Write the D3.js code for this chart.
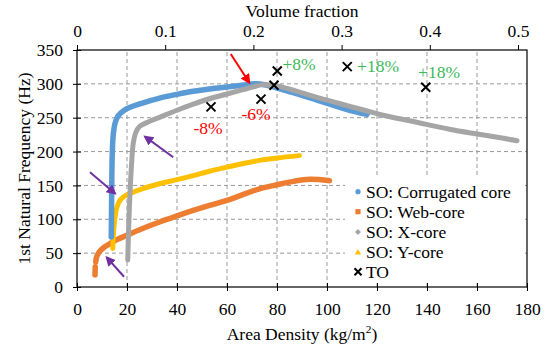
<!DOCTYPE html>
<html><head><meta charset="utf-8">
<script src="https://cdn.jsdelivr.net/npm/d3@7"></script>
<style>body{margin:0;background:#fff}svg{display:block}svg text{font-family:"Liberation Serif","Tinos","DejaVu Serif","Times New Roman",serif !important}</style>
</head><body><svg id="c" width="548" height="345"></svg>
<script>
// ---- data ----
const xTicks = [0,20,40,60,80,100,120,140,160,180];
const yTicks = [0,50,100,150,200,250,300,350];
const vfTicks = [0,0.1,0.2,0.3,0.4,0.5];
const seriesNames = ["SO: Corrugated core","SO: Web-core","SO: X-core","SO: Y-core","TO"];
const corrugated = [[13.7,74],[13.8,110],[13.9,150],[14.1,195],[14.5,225],[15.3,243],[16.5,253],[18.5,260],[21,265],[26.5,272],[33,279],[40,284.5],[46.5,289],[53,292.5],[60,295.5],[66,298],[71,300],[76,298],[82.5,291],[90,283],[96,276],[103,268],[109,261],[116,255]];
const webCoreLow = [[7.2,18],[7.3,30]];
const webCore = [[7.5,37],[7.9,45],[9.2,53],[11,59],[13.2,64],[16,70],[20,76.5],[26,86],[33,96],[40,105],[46.5,113],[53,120.5],[60,128],[66,136],[73,145],[80,151],[86.5,156],[93,159],[101,157]];
const xCore = [[20.3,40],[20.6,80],[21.1,130],[21.8,180],[22.5,212],[23.5,228],[25,237],[28,243],[33,250.5],[40,261],[46.5,270],[53,278],[60,285],[66,291],[71,296],[74,298.5],[80,297],[88,289],[96,280],[105,271],[115,261],[122,254],[135,244],[149,233],[160,226],[170,220],[176,216]];
const yCore = [[14.3,57],[14.6,80],[15.2,103],[16,118],[17.2,128],[19,134],[21.2,138],[26,145],[33,152.5],[40,158.5],[46.5,164.5],[53,171],[60,177],[66,182],[73,187],[80,190.5],[89,194]];
const toPoints = [[53.6,266],[73.6,277.5],[78.8,298],[80.1,319],[108.1,325.5],[139.5,295]];
const labels = [["-8%",52.4,235,"red"],["-6%",71.6,255,"red"],["+8%",88.8,329,"green"],["+18%",120.4,326,"green"],["+18%",144.8,318,"green"]];
const arrows = [[61.5,344,68.9,302,"red"],[38.5,191.6,27.2,222,"purple"],[5.2,169.6,15.2,138,"purple"],[18.8,15.1,11.9,43.7,"purple"]];

// ---- chart ----
const svg = d3.select("#c");
const FS = 17.5;
const x = d3.scaleLinear().domain([0,180]).range([77,527]);
const y = d3.scaleLinear().domain([0,350]).range([287,50]);
const xt = d3.scaleLinear().domain([0,0.5]).range([77,518]);
const colors = {blue:"#5B9BD5",orange:"#ED7D31",gray:"#A5A5A5",yellow:"#FFC000",red:"#FF0000",green:"#3CB95A",purple:"#7030A0"};

// grid
const g = svg.append("g");
g.selectAll(".gx").data(xTicks.slice(1,-1)).join("line")
  .attr("x1",d=>x(d)).attr("x2",d=>x(d)).attr("y1",y(0)).attr("y2",y(350))
  .attr("stroke","#999").attr("stroke-dasharray","4,3");
g.selectAll(".gy").data(yTicks.slice(1,-1)).join("line")
  .attr("y1",d=>y(d)).attr("y2",d=>y(d)).attr("x1",x(0)).attr("x2",x(180))
  .attr("stroke","#999").attr("stroke-dasharray","4,3");

// legend background (hides grid behind)
const lgx = 345, lgy = 177;
svg.append("rect").attr("x",lgx).attr("y",lgy).attr("width",178).attr("height",104).attr("fill","#fff");

// series as dense marker curves
const lineC = d3.line().x(d=>x(d[0])).y(d=>y(d[1])).curve(d3.curveCatmullRom);
function drawSeries(data,color,w){
  svg.append("path").attr("d",lineC(data)).attr("fill","none").attr("stroke",color)
    .attr("stroke-width",w).attr("stroke-linecap","round").attr("stroke-linejoin","round");
}
drawSeries(webCoreLow,colors.orange,5.5);
drawSeries(webCore,colors.orange,5.5);
drawSeries(yCore,colors.yellow,5);
drawSeries(corrugated,colors.blue,5.5);
drawSeries(xCore,colors.gray,5);

// TO markers
const s=4.5;
svg.selectAll(".to").data(toPoints).join("path")
  .attr("d",d=>{const cx=x(d[0]),cy=y(d[1]);return `M${cx-s},${cy-s}L${cx+s},${cy+s}M${cx-s},${cy+s}L${cx+s},${cy-s}`;})
  .attr("stroke","#000").attr("stroke-width",2);

// annotations
svg.selectAll(".lab").data(labels).join("text")
  .attr("x",d=>x(d[1])).attr("y",d=>y(d[2])).attr("text-anchor","middle").attr("dominant-baseline","central")
  .attr("font-size",FS).attr("fill",d=>colors[d[3]]).text(d=>d[0]);

// arrows
const defs = svg.append("defs");
["red","purple"].forEach(c=>{
  defs.append("marker").attr("id","ah-"+c).attr("viewBox","0 0 10 10").attr("refX",8).attr("refY",5)
    .attr("markerWidth",5).attr("markerHeight",5).attr("orient","auto")
    .append("path").attr("d","M0,0L10,5L0,10z").attr("fill",colors[c]);
});
svg.selectAll(".arr").data(arrows).join("line")
  .attr("x1",d=>x(d[0])).attr("y1",d=>y(d[1])).attr("x2",d=>x(d[2])).attr("y2",d=>y(d[3]))
  .attr("stroke",d=>colors[d[4]]).attr("stroke-width",2).attr("marker-end",d=>`url(#ah-${d[4]})`);

// frame
svg.append("rect").attr("x",x(0)).attr("y",y(350)).attr("width",x(180)-x(0)).attr("height",y(0)-y(350))
  .attr("fill","none").attr("stroke","#000").attr("stroke-width",1.2);

// bottom axis
const ax = svg.append("g").attr("transform",`translate(0,${y(0)})`)
  .call(d3.axisBottom(x).tickValues(xTicks).tickSize(4).tickPadding(12));
ax.attr("font-family",null);
ax.select(".domain").remove();
ax.selectAll(".tick line").attr("y1",-4).attr("y2",4).attr("stroke","#000");
ax.selectAll("text").attr("font-size",FS).attr("fill","#000");

// left axis
const ay = svg.append("g").attr("transform",`translate(${x(0)},0)`)
  .call(d3.axisLeft(y).tickValues(yTicks).tickSize(4).tickPadding(10));
ay.attr("font-family",null);
ay.select(".domain").remove();
ay.selectAll(".tick line").attr("x1",-4).attr("x2",4).attr("stroke","#000");
ay.selectAll("text").attr("font-size",FS).attr("fill","#000");

// top axis
const at = svg.append("g").attr("transform",`translate(0,${y(350)})`)
  .call(d3.axisTop(xt).tickValues(vfTicks).tickFormat(d3.format("")).tickSize(5).tickPadding(8));
at.attr("font-family",null);
at.select(".domain").remove();
at.selectAll(".tick line").attr("stroke","#000");
at.selectAll("text").attr("font-size",FS).attr("fill","#000");

// titles
svg.append("text").attr("x",(x(0)+x(180))/2).attr("y",17).attr("text-anchor","middle").attr("font-size",FS).text("Volume fraction");
const bt = svg.append("text").attr("x",(x(0)+x(180))/2).attr("y",340).attr("text-anchor","middle").attr("font-size",FS);
bt.append("tspan").text("Area Density (kg/m");
bt.append("tspan").attr("font-size",FS*0.65).attr("dy",-7).text("2");
bt.append("tspan").attr("dy",7).text(")");
svg.append("text").attr("transform",`translate(24,${(y(0)+y(350))/2}) rotate(-90)`).attr("text-anchor","middle")
  .attr("dominant-baseline","central").attr("font-size",FS).text("1st Natural Frequency (Hz)");

// legend
const lg = svg.append("g");
const rows = [191.7,211.7,232,252.2,271.7];
const mx = 358, tx = 366;
lg.append("circle").attr("cx",mx).attr("cy",rows[0]).attr("r",2.6).attr("fill",colors.blue);
lg.append("rect").attr("x",mx-2.6).attr("y",rows[1]-2.6).attr("width",5.2).attr("height",5.2).attr("fill",colors.orange);
lg.append("path").attr("d",`M${mx},${rows[2]-3}L${mx+3},${rows[2]}L${mx},${rows[2]+3}L${mx-3},${rows[2]}Z`).attr("fill",colors.gray);
lg.append("path").attr("d",`M${mx},${rows[3]-3.2}L${mx+3.2},${rows[3]+2.4}L${mx-3.2},${rows[3]+2.4}Z`).attr("fill",colors.yellow);
lg.append("path").attr("d",`M${mx-3.5},${rows[4]-3.5}L${mx+3.5},${rows[4]+3.5}M${mx-3.5},${rows[4]+3.5}L${mx+3.5},${rows[4]-3.5}`).attr("stroke","#000").attr("stroke-width",2);
lg.selectAll(".lt").data(seriesNames).join("text").attr("x",tx).attr("y",(d,i)=>rows[i])
  .attr("dominant-baseline","central").attr("font-size",FS).text(d=>d);
</script></body></html>
